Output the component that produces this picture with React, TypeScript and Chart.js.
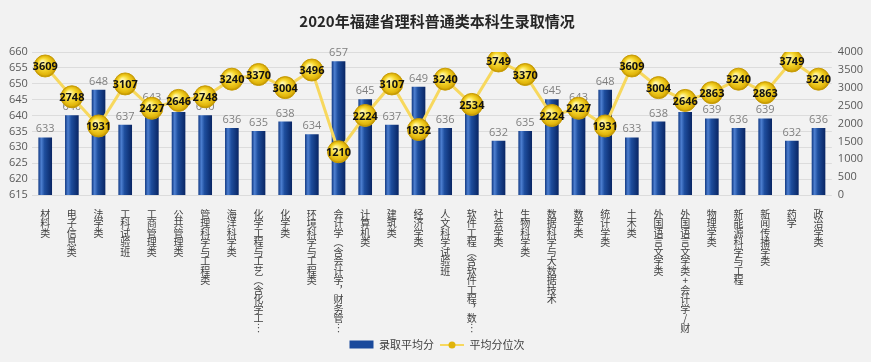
import React, { useEffect, useRef } from "react";
import { Chart, registerables } from "chart.js";
Chart.register(...registerables);

const TITLE = "2020年福建省理科普通类本科生录取情况";
const SERIES_BAR = "录取平均分";
const SERIES_LINE = "平均分位次";

const categories = [
  "材料类", "电子信息类", "法学类", "工科试验班", "工商管理类", "公共管理类",
  "管理科学与工程类", "海洋科学类", "化学工程与工艺（含化学工…", "化学类",
  "环境科学与工程类", "会计学（含会计学，财务管…", "计算机类", "建筑类", "经济学类",
  "人文科学试验班", "软件工程（含软件工程，数…", "社会学类", "生物科学类",
  "数据科学与大数据技术", "数学类", "统计学类", "土木类", "外国语言文学类",
  "外国语言文学类+会计学/财…", "物理学类", "新能源科学与工程", "新闻传播学类", "药学", "政治学类",
];
const avgScores = [
  633, 640, 648, 637, 643, 641, 640, 636, 635, 638, 634, 657, 645, 637, 649,
  636, 642, 632, 635, 645, 643, 648, 633, 638, 641, 639, 636, 639, 632, 636,
];
const avgRanks = [
  3609, 2748, 1931, 3107, 2427, 2646, 2748, 3240, 3370, 3004, 3496, 1210, 2224, 3107, 1832,
  3240, 2534, 3749, 3370, 2224, 2427, 1931, 3609, 3004, 2646, 2863, 3240, 2863, 3749, 3240,
];
const leftMin = 615, leftMax = 660, leftStep = 5;
const rightMin = 0, rightMax = 4000, rightStep = 500;

const FONT = "'Noto Sans CJK SC', 'Open Sans', sans-serif";
const NUMFONT = "'Open Sans', 'Noto Sans', sans-serif";

const verticalMap: Record<string, string> = { "（": "︵", "，": "︐", "…": "︙" };
const toVertical = (s: string) => Array.from(s).map((c) => verticalMap[c] || c);

export default function App() {
  const ref = useRef<HTMLCanvasElement>(null);
  useEffect(() => {
    if (!ref.current) return;
    const barColor = (ctx: any) => {
      const chart = ctx.chart;
      const xs = chart.scales && chart.scales.x;
      if (!xs || ctx.type !== "data") return "#1F4E9A";
      const cx = xs.getPixelForValue(ctx.dataIndex);
      if (!isFinite(cx)) return "#1F4E9A";
      const w = 13;
      const g = chart.ctx.createLinearGradient(cx - w / 2, 0, cx + w / 2, 0);
      g.addColorStop(0, "#163f8a");
      g.addColorStop(0.2, "#4d7fd0");
      g.addColorStop(0.45, "#1e4e9e");
      g.addColorStop(1, "#0a2766");
      return g;
    };
    const pointColor = (ctx: any) => {
      const chart = ctx.chart;
      const xs = chart.scales && chart.scales.x;
      const ys = chart.scales && chart.scales.y1;
      if (!xs || !ys || ctx.type !== "data") return "#F2C811";
      const x = xs.getPixelForValue(ctx.dataIndex);
      const y = ys.getPixelForValue(avgRanks[ctx.dataIndex]);
      if (!isFinite(x) || !isFinite(y)) return "#F2C811";
      const g = chart.ctx.createRadialGradient(x - 3, y - 4, 1, x, y, 11);
      g.addColorStop(0, "#fff7b0");
      g.addColorStop(0.45, "#f7d932");
      g.addColorStop(0.85, "#e0b40a");
      g.addColorStop(1, "#b88d00");
      return g;
    };

    const labelPlugin = {
      id: "valueLabels",
      afterDatasetDraw(chart: any, args: any) {
        if (args.index !== 0) return;
        const c = chart.ctx;
        c.save();
        c.font = `11px ${NUMFONT}`;
        c.fillStyle = "#7f7f7f";
        c.textAlign = "center";
        c.textBaseline = "bottom";
        args.meta.data.forEach((el: any, i: number) => {
          c.fillText(String(avgScores[i]), el.x, el.y - 3);
        });
        c.restore();
      },
      afterDatasetsDraw(chart: any) {
        const meta = chart.getDatasetMeta(1);
        const c = chart.ctx;
        c.save();
        c.font = `bold 11px ${NUMFONT}`;
        c.fillStyle = "#111";
        c.textAlign = "center";
        c.textBaseline = "middle";
        meta.data.forEach((el: any, i: number) => {
          c.fillText(String(avgRanks[i]), el.x, el.y + 1);
        });
        c.restore();
      },
      afterDraw(chart: any) {
        const lg = chart.legend;
        if (!lg || !lg.legendHitBoxes || lg.legendHitBoxes.length < 2) return;
        const hb = lg.legendHitBoxes[1];
        const c = chart.ctx;
        const y = Math.round(hb.top + hb.height / 2);
        c.save();
        c.strokeStyle = "#F7D85E";
        c.lineWidth = 2;
        c.beginPath();
        c.moveTo(hb.left, y);
        c.lineTo(hb.left + 24, y);
        c.stroke();
        c.beginPath();
        c.arc(hb.left + 12, y, 3.5, 0, Math.PI * 2);
        c.fillStyle = "#e0b40a";
        c.fill();
        c.restore();
      },
    };

    const chart = new Chart(ref.current, {
      type: "bar",
      data: {
        labels: categories,
        datasets: [
          {
            type: "bar",
            label: SERIES_BAR,
            data: avgScores,
            yAxisID: "y",
            backgroundColor: barColor,
            barThickness: 13,
            order: 1,
          },
          {
            type: "line",
            label: SERIES_LINE,
            data: avgRanks,
            yAxisID: "y1",
            borderColor: "#F7D85E",
            borderWidth: 3,
            pointRadius: 11,
            pointBackgroundColor: pointColor,
            pointBorderColor: "#c99d05",
            pointBorderWidth: 1,
            tension: 0,
            order: 0,
          } as any,
        ],
      },
      options: {
        animation: false,
        responsive: false,
        maintainAspectRatio: false,
        layout: { padding: { left: 5, right: 2, top: 0, bottom: 2 } },
        plugins: {
          title: {
            display: true,
            text: TITLE,
            color: "#262626",
            font: { family: FONT, size: 15, weight: "bold" },
            padding: { top: 12, bottom: 22 },
          },
          legend: {
            display: true,
            position: "bottom",
            labels: {
              font: { family: FONT, size: 11 },
              color: "#404040",
              padding: 6,
              boxWidth: 24,
              boxHeight: 8,
              generateLabels: () => [
                {
                  text: SERIES_BAR,
                  fillStyle: "#1a4a9c",
                  strokeStyle: "#1a4a9c",
                  lineWidth: 0,
                  datasetIndex: 0,
                  fontColor: "#404040",
                } as any,
                {
                  text: SERIES_LINE,
                  fillStyle: "rgba(0,0,0,0)",
                  strokeStyle: "rgba(0,0,0,0)",
                  lineWidth: 0,
                  datasetIndex: 1,
                  fontColor: "#404040",
                } as any,
              ],
            },
          },
          tooltip: { enabled: false },
        },
        scales: {
          x: {
            grid: { display: false },
            border: { display: false },
            afterFit: (scale: any) => {
              scale.height = 138;
            },
            ticks: {
              autoSkip: false,
              maxRotation: 0,
              minRotation: 0,
              padding: 6,
              color: "#404040",
              font: { family: FONT, size: 10, lineHeight: 0.95 },
              callback: (_v: any, i: number) => toVertical(categories[i]),
            },
          },
          y: {
            position: "left",
            min: leftMin,
            max: leftMax,
            ticks: {
              stepSize: leftStep,
              autoSkip: false,
              color: "#595959",
              font: { family: NUMFONT, size: 11 },
              padding: 4,
              callback: (v: any) => String(v),
            },
            grid: { color: "#dcdcdc", drawTicks: false },
            border: { display: false },
          },
          y1: {
            position: "right",
            min: rightMin,
            max: rightMax,
            ticks: {
              stepSize: rightStep,
              autoSkip: false,
              color: "#595959",
              font: { family: NUMFONT, size: 11 },
              padding: 6,
              callback: (v: any) => String(v),
            },
            grid: { drawOnChartArea: false, drawTicks: false },
            border: { display: false },
          },
        },
      },
      plugins: [labelPlugin],
    } as any);
    return () => chart.destroy();
  }, []);
  return (
    <div style={{ position: "fixed", left: 0, top: 0, width: 871, height: 362, background: "#f2f2f2" }}>
      <canvas ref={ref} width={871} height={362} style={{ width: 871, height: 362, display: "block" }} />
    </div>
  );
}
